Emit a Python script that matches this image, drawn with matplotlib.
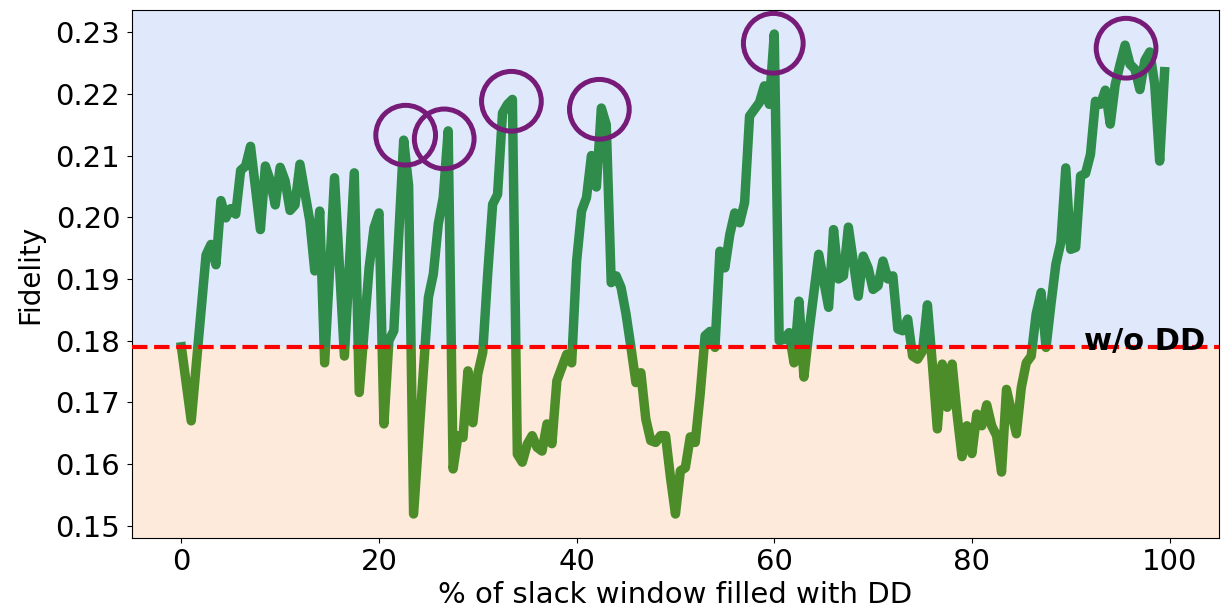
import matplotlib
matplotlib.use('agg')
import matplotlib.pyplot as plt
import numpy as np

# % of slack window filled with DD vs fidelity
pct = [0, 1.0, 2.5, 3.0, 3.5, 4.0, 4.5, 5.0, 5.5, 6.0, 6.5, 7.0, 8.0, 8.5, 9.0, 9.5,
       10.0, 10.5, 11.0, 11.5, 12.0, 13.0, 13.5, 14.0, 14.5, 15.5, 16.5, 17.5, 18.0,
       19.0, 19.5, 20.0, 20.5, 21.0, 21.5, 22.5, 23.0, 23.5, 25.0, 25.5, 26.0, 26.5,
       27.0, 27.5, 28.0, 28.5, 29.0, 29.5, 30.0, 30.5, 31.0, 31.5, 32.0, 32.5, 33.0,
       33.5, 34.0, 34.5, 35.0, 35.5, 36.0, 36.5, 37.0, 37.5, 38.0, 39.0, 39.5, 40.0,
       40.5, 41.0, 41.5, 42.0, 42.5, 43.0, 43.5, 44.0, 44.5, 45.0, 45.5, 46.0, 46.5,
       47.0, 47.5, 48.0, 48.5, 49.0, 49.5, 50.0, 50.5, 51.0, 51.5, 52.0, 52.5, 53.0,
       53.5, 54.0, 54.5, 55.0, 55.5, 56.0, 56.5, 57.0, 57.5, 58.5, 59.0, 59.5, 60.0,
       60.5, 61.0, 61.5, 62.0, 62.5, 63.0, 63.5, 64.5, 65.5, 66.0, 66.5, 67.0, 67.5,
       68.5, 69.0, 69.5, 70.0, 70.5, 71.0, 71.5, 72.0, 72.5, 73.0, 73.5, 74.0, 74.5,
       75.0, 75.5, 76.0, 76.5, 77.0, 77.5, 78.0, 78.5, 79.0, 79.5, 80.0, 80.5, 81.0,
       81.5, 82.0, 82.5, 83.0, 83.5, 84.5, 85.0, 85.5, 86.0, 86.5, 87.0, 87.5, 88.0,
       88.5, 89.0, 89.5, 90.0, 90.5, 91.0, 91.5, 92.0, 92.5, 93.0, 93.5, 94.0, 94.5,
       95.0, 95.5, 96.0, 96.5, 97.0, 97.5, 98.0, 98.5, 99.0, 99.5]
fidelity = [0.179, 0.167, 0.1939, 0.1956, 0.1923, 0.2027, 0.1999, 0.2014, 0.2005, 0.2076,
            0.2083, 0.2115, 0.198, 0.2083, 0.2059, 0.202, 0.2081, 0.2059, 0.2011, 0.202,
            0.2086, 0.1994, 0.1913, 0.201, 0.1764, 0.2064, 0.1775, 0.2072, 0.1716, 0.1918,
            0.1983, 0.2007, 0.1665, 0.180, 0.1816, 0.2125, 0.2051, 0.1519, 0.187, 0.1908,
            0.1989, 0.2032, 0.214, 0.1592, 0.1646, 0.1643, 0.1751, 0.1667, 0.1746, 0.1781,
            0.1908, 0.2021, 0.2037, 0.2169, 0.2183, 0.2191, 0.1616, 0.1603, 0.1632, 0.1646,
            0.1627, 0.1621, 0.1665, 0.1633, 0.1735, 0.1778, 0.1764, 0.1929, 0.201, 0.2032,
            0.2100, 0.2049, 0.2177, 0.215, 0.1894, 0.1905, 0.1886, 0.1843, 0.1789, 0.1732,
            0.1748, 0.1673, 0.1638, 0.1635, 0.1646, 0.1646, 0.1578, 0.1519, 0.1589, 0.1594,
            0.1644, 0.1635, 0.1713, 0.1808, 0.1815, 0.1789, 0.1945, 0.1918, 0.1972, 0.2007,
            0.1991, 0.2024, 0.2164, 0.2186, 0.2213, 0.2183, 0.2297, 0.180, 0.1802, 0.1813,
            0.1764, 0.1864, 0.1741, 0.1813, 0.194, 0.1854, 0.198, 0.190, 0.1905, 0.1984,
            0.1872, 0.1937, 0.1918, 0.1883, 0.1889, 0.1929, 0.190, 0.1905, 0.1819, 0.1816,
            0.1835, 0.1775, 0.177, 0.1783, 0.1858, 0.1762, 0.1657, 0.1762, 0.1692, 0.1762,
            0.1681, 0.1612, 0.1662, 0.1617, 0.1681, 0.1662, 0.1696, 0.1662, 0.1646, 0.1587,
            0.1721, 0.1649, 0.1724, 0.1764, 0.1775, 0.1843, 0.1878, 0.1789, 0.1859, 0.1924,
            0.1959, 0.208, 0.1948, 0.1951, 0.2067, 0.2071, 0.2102, 0.2188, 0.2183, 0.2206,
            0.2151, 0.2215, 0.2248, 0.2279, 0.2248, 0.224, 0.2207, 0.2254, 0.2268, 0.2215,
            0.2091, 0.2236]

baseline = 0.179  # fidelity without DD

# highlighted peaks
peak_x = [22.7, 26.6, 33.4, 42.3, 59.9, 95.6]
peak_y = [0.2133, 0.2127, 0.2188, 0.2175, 0.2282, 0.2274]

fig, ax = plt.subplots(figsize=(12.32, 6.15), dpi=100)
fig.subplots_adjust(left=0.1071, right=0.9894, top=0.9837, bottom=0.1252)

ax.plot(pct, fidelity, color='forestgreen', lw=6.8, zorder=1)
ax.set_xlim(-5, 105)
ylo, yhi = ax.get_ylim()

ax.axhspan(baseline, yhi, color='cornflowerblue', alpha=0.2, lw=0, zorder=2)
ax.axhspan(ylo, baseline, color='#f79646', alpha=0.2, lw=0, zorder=2)
ax.set_ylim(ylo, yhi)

ax.axhline(baseline, color='red', ls='--', lw=3, zorder=3)
ax.text(91.3, baseline + 0.0008, 'w/o DD', fontsize=22, fontweight='bold',
        ha='left', va='center', zorder=4)

ax.scatter(peak_x, peak_y, s=43**2, facecolors='none', edgecolors='#761c78',
           linewidths=3.6, zorder=4)

ax.set_xlabel('% of slack window filled with DD', fontsize=21)
ax.set_ylabel('Fidelity', fontsize=20, labelpad=8)
ax.tick_params(labelsize=21)
ax.tick_params(axis='y', pad=5)
ax.set_yticks([0.15, 0.16, 0.17, 0.18, 0.19, 0.20, 0.21, 0.22, 0.23])

fig.savefig('out.png', dpi=100)
